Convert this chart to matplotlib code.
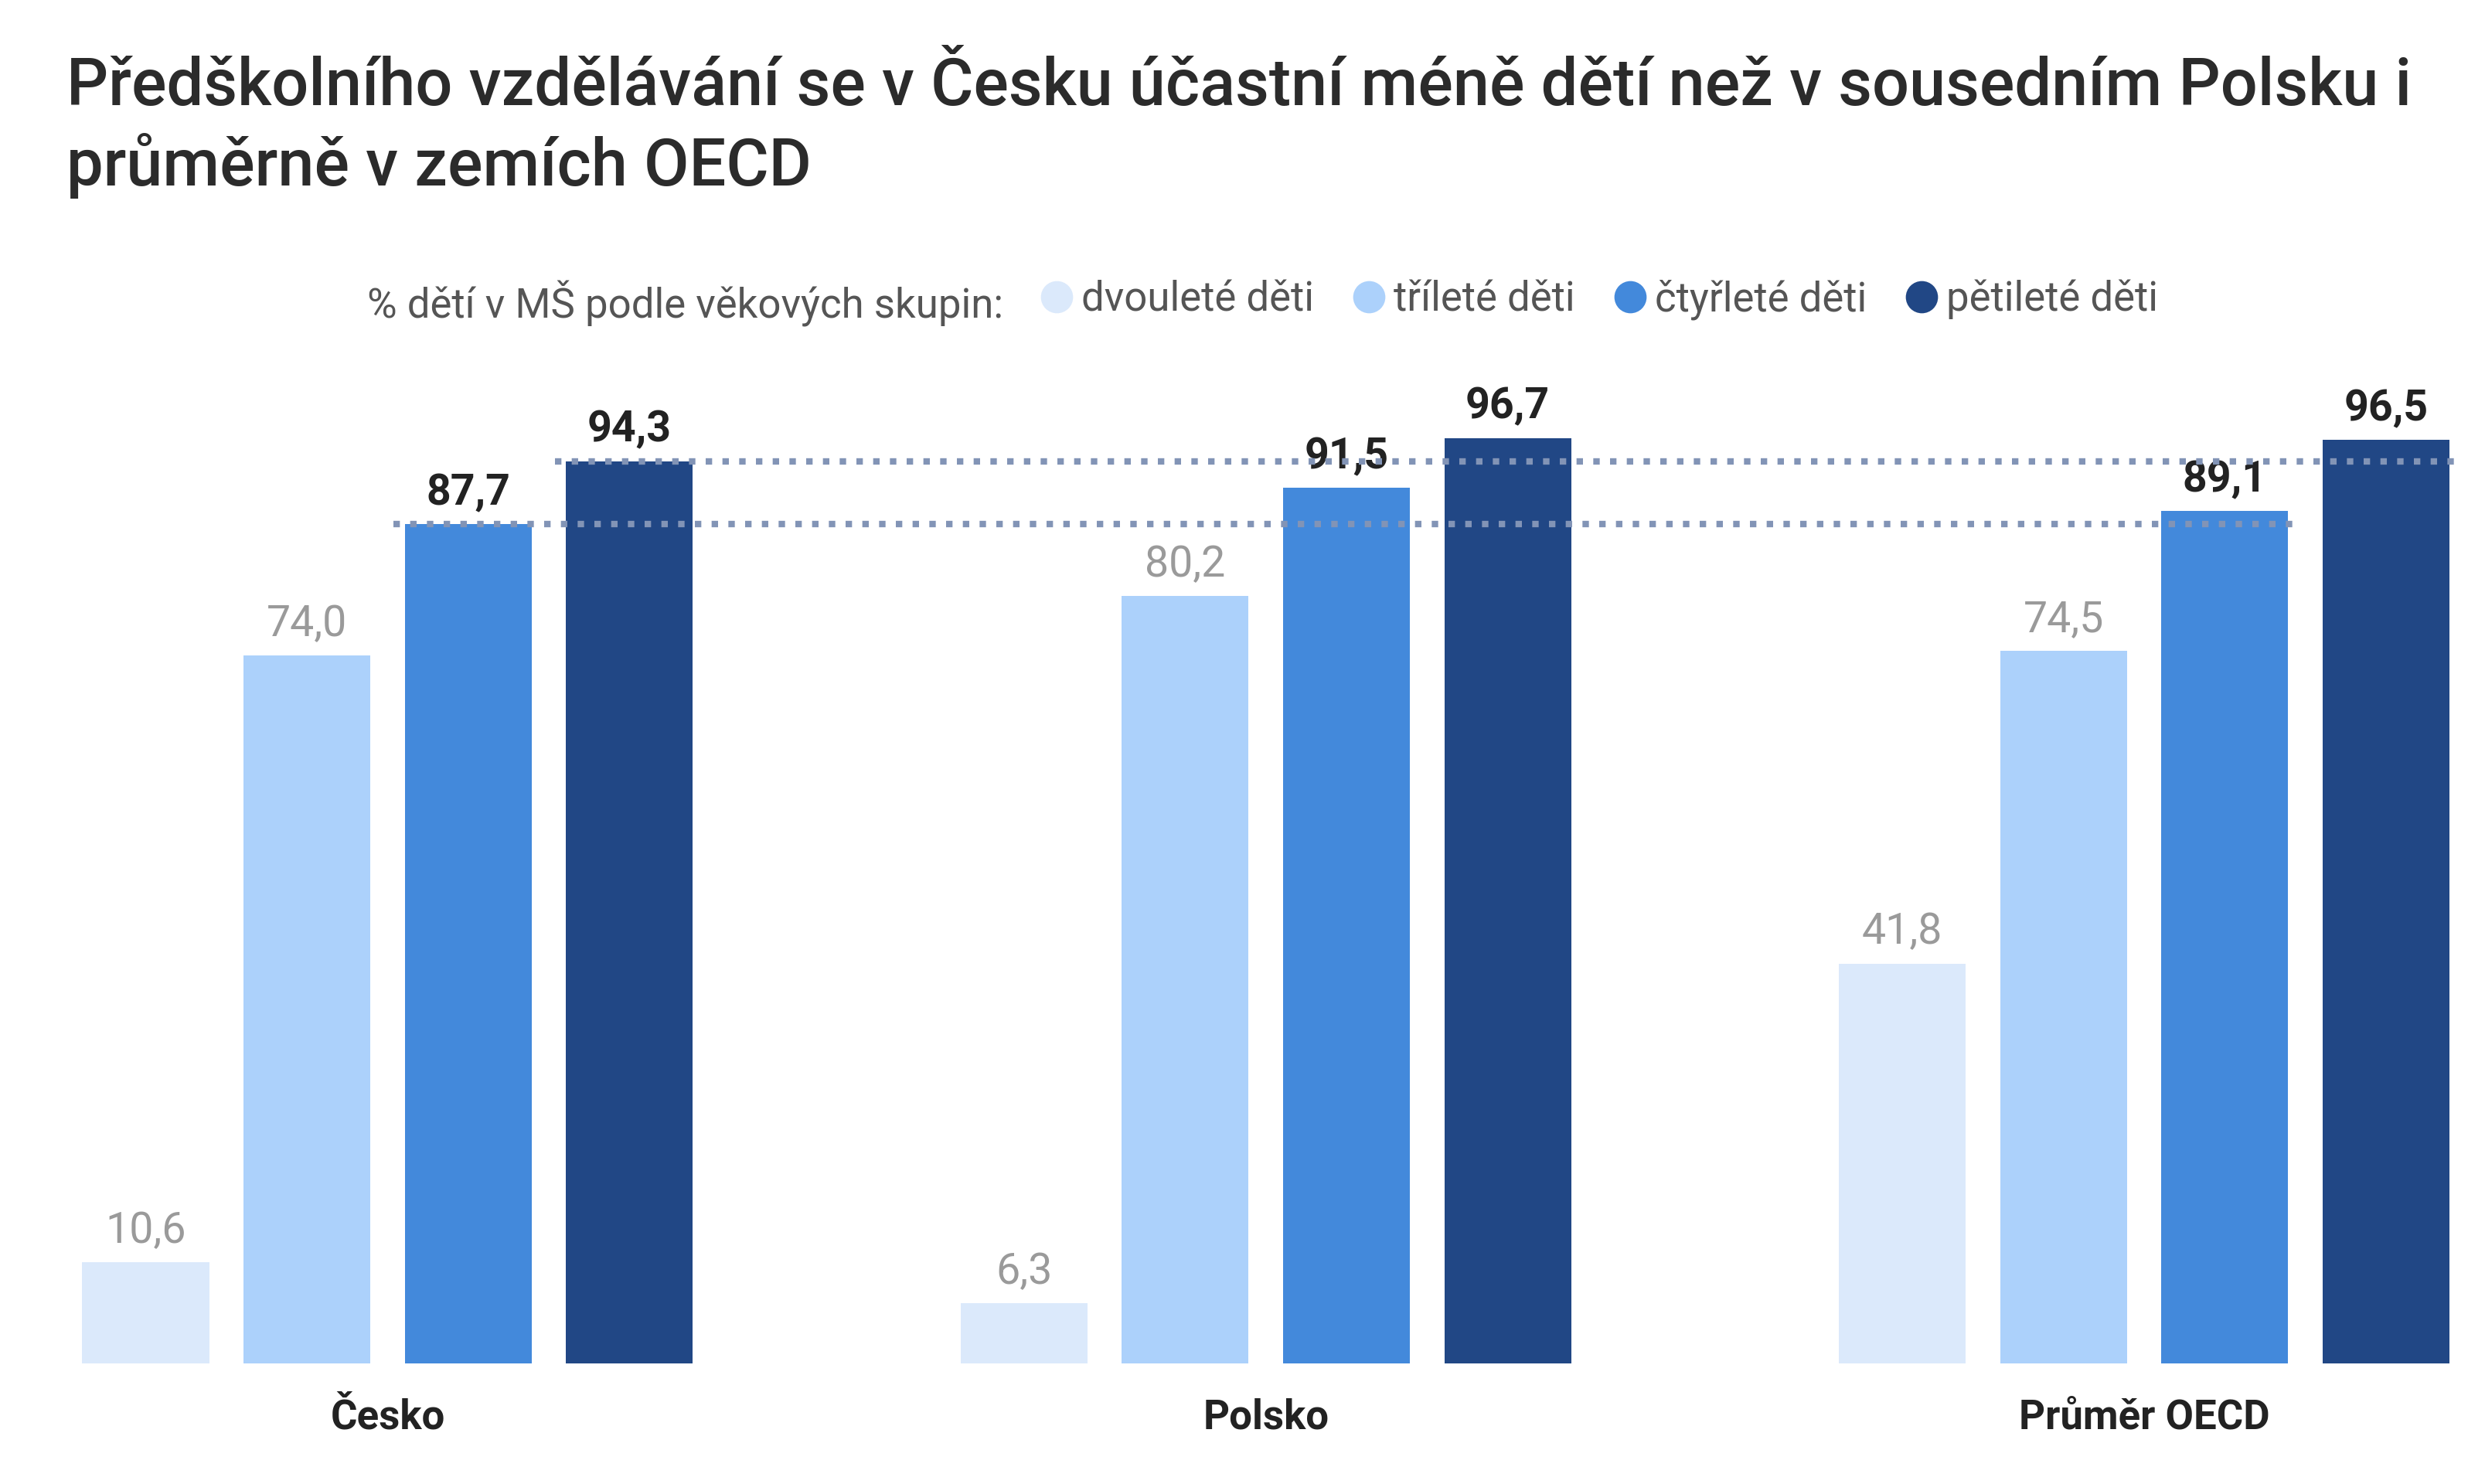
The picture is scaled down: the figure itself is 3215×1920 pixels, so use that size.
import numpy as np
import matplotlib.pyplot as plt
from matplotlib.lines import Line2D

plt.rcParams['font.family'] = ['Roboto', 'DejaVu Sans']

# data
groups = ['Česko', 'Polsko', 'Průměr OECD']
series = ['dvouleté děti', 'tříleté děti', 'čtyřleté děti', 'pětileté děti']
dvoulete = [10.6, 6.3, 41.8]
trilete = [74.0, 80.2, 74.5]
ctyrlete = [87.7, 91.5, 89.1]
petilete = [94.3, 96.7, 96.5]
values = [dvoulete, trilete, ctyrlete, petilete]
colors = ['#dbe9fb', '#acd1fb', '#4389db', '#214785']
title_lines = ['Předškolního vzdělávání se v Česku účastní méně dětí než v sousedním Polsku i',
               'průměrně v zemích OECD']
legend_title = '% dětí v MŠ podle věkových skupin:'

fig = plt.figure(figsize=(16.08, 9.6), dpi=200)
ax = fig.add_axes([0, 0.08125, 1, 0.6448])

x = np.arange(len(groups))
step = 0.1836
width = 0.1444

for i, (vals, col) in enumerate(zip(values, colors)):
    pos = x + (i - 1.5) * step
    bars = ax.bar(pos, vals, width=width, color=col, zorder=2)
    if i < 2:
        fc, fw = '#9a9a9a', 'normal'
    else:
        fc, fw = '#222222', 'bold'
    for b, v in zip(bars, vals):
        ax.annotate(f'{v:.1f}'.replace('.', ','), (b.get_x() + b.get_width() / 2, v),
                    xytext=(0, 9), textcoords='offset points', ha='center', va='baseline',
                    fontsize=20, color=fc, fontweight=fw)

# reference lines at Czech values (4 and 5 year olds)
for i in (2, 3):
    x0 = x[0] + (i - 1.5) * step - width / 2 - 0.013
    x1 = x[-1] + (i - 1.5) * step + width / 2 + 0.016
    ax.plot([x0, x1], [values[i][0]] * 2, color='#8294b6', lw=3,
            linestyle=(0, (1, 1.6)), solid_capstyle='butt', dash_capstyle='butt', zorder=3)

ax.set_xlim(-0.4413, 2.389)
ax.set_ylim(0, 100)
ax.axis('off')

for xi, g in zip(x, groups):
    ax.text(xi, -6.8, g, ha='center', va='baseline', fontsize=19, fontweight='bold', color='#222222')

# title
fig.text(0.0268, 0.929, title_lines[0], fontsize=30.5, fontweight='medium', color='#2b2b2b', va='baseline')
fig.text(0.0268, 0.875, title_lines[1], fontsize=30.5, fontweight='medium', color='#2b2b2b', va='baseline')

# legend
fig.text(633 / 1568, 1 - 189 / 936, legend_title, ha='right', va='center_baseline',
         fontsize=19, color='#555555')
handles = [Line2D([], [], marker='o', linestyle='none', markersize=14, color=c) for c in colors]
fig.legend(handles, series, loc='center left', bbox_to_anchor=(659 / 1568, 1 - 189 / 936),
           ncol=4, frameon=False, fontsize=19, labelcolor='#555555', handlelength=0.6,
           handletextpad=0.3, columnspacing=1.05, borderpad=0, borderaxespad=0)

fig.savefig('out.png', dpi=200)
